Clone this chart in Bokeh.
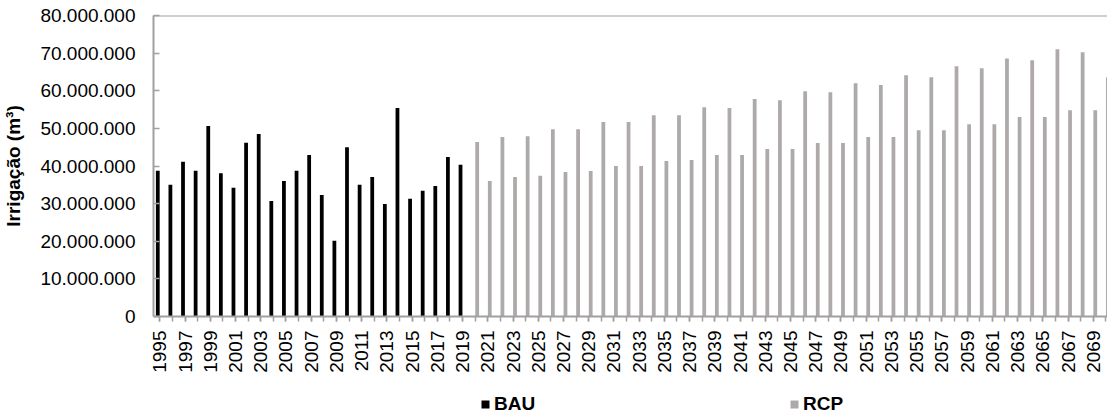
import numpy as np
from bokeh.plotting import figure
from bokeh.layouts import column
from bokeh.models import ColumnDataSource, Range1d, FixedTicker, Span, Legend, LegendItem
from bokeh.transform import dodge
from bokeh.embed import file_html
from bokeh.resources import INLINE

# ---------------- data ----------------
bau_years = list(range(1995, 2020))
bau_values = [38.75e6, 35.0e6, 41.1e6, 38.75e6, 50.6e6, 38.1e6, 34.25e6, 46.2e6, 48.5e6, 30.7e6,
              36.0e6, 38.75e6, 42.9e6, 32.3e6, 20.1e6, 45.0e6, 35.0e6, 37.1e6, 29.9e6, 55.4e6,
              31.3e6, 33.4e6, 34.7e6, 42.4e6, 40.3e6]

rcp_years = list(range(2020, 2071))
rcp_values = [46.4e6, 36.0e6, 47.7e6, 37.1e6, 47.9e6, 37.4e6, 49.8e6, 38.4e6, 49.8e6, 38.7e6,
              51.7e6, 40.0e6, 51.7e6, 40.0e6, 53.5e6, 41.3e6, 53.5e6, 41.6e6, 55.6e6, 42.9e6,
              55.4e6, 42.9e6, 57.8e6, 44.5e6, 57.5e6, 44.5e6, 59.9e6, 46.1e6, 59.6e6, 46.1e6,
              62.0e6, 47.7e6, 61.5e6, 47.7e6, 64.1e6, 49.5e6, 63.6e6, 49.5e6, 66.5e6, 51.1e6,
              66.0e6, 51.1e6, 68.6e6, 53.0e6, 68.1e6, 53.0e6, 71.0e6, 54.8e6, 70.2e6, 54.8e6,
              63.6e6]

y_ticks = [0, 10e6, 20e6, 30e6, 40e6, 50e6, 60e6, 70e6, 80e6]
y_tick_labels = ["0", "10.000.000", "20.000.000", "30.000.000", "40.000.000",
                 "50.000.000", "60.000.000", "70.000.000", "80.000.000"]

x_label_years = list(range(1995, 2070, 2))
all_years = bau_years + rcp_years

series_names = ["BAU", "RCP"]
y_axis_title = "Irrigação (m³)"

# ---------------- style ----------------
FONT = "Liberation Sans"
AXIS_COLOR = "#A0A0A0"
BAU_COLOR = "#000000"
RCP_COLOR = "#AEAAAA"
W = 1107

p = figure(width=W, height=375,
           x_range=Range1d(1994.5, 2070.13), y_range=Range1d(0, 80e6),
           output_backend="svg", toolbar_location=None,
           min_border_left=148, min_border_right=0, min_border_top=15, min_border_bottom=58,
           outline_line_color=None)
p.xgrid.visible = False
p.ygrid.visible = False

src_bau = ColumnDataSource(dict(year=bau_years, value=bau_values))
src_rcp = ColumnDataSource(dict(year=rcp_years, value=rcp_values))

p.vbar(x=dodge("year", -0.16), top="value", width=0.3, bottom=0,
       source=src_bau, fill_color=BAU_COLOR, line_color=None)
p.vbar(x=dodge("year", 0.16), top="value", width=0.3, bottom=0,
       source=src_rcp, fill_color=RCP_COLOR, line_color=None)

# top border line
p.add_layout(Span(location=80e6, dimension="width", line_color=AXIS_COLOR, line_width=2))

# x axis
xa = p.xaxis[0]
xa.ticker = FixedTicker(ticks=x_label_years, minor_ticks=all_years)
xa.major_label_overrides = {y: str(y) for y in x_label_years}
xa.major_label_orientation = np.pi / 2
xa.major_label_text_font = FONT
xa.major_label_text_font_size = "19px"
xa.major_label_text_color = "#000000"
xa.major_label_standoff = 9
xa.axis_line_color = AXIS_COLOR
xa.axis_line_width = 2
xa.major_tick_line_color = AXIS_COLOR
xa.minor_tick_line_color = AXIS_COLOR
xa.major_tick_line_width = 1.5
xa.minor_tick_line_width = 1.5
xa.major_tick_in = 0
xa.major_tick_out = 5
xa.minor_tick_in = 0
xa.minor_tick_out = 5

# y axis
ya = p.yaxis[0]
ya.ticker = FixedTicker(ticks=y_ticks, minor_ticks=[])
ya.major_label_overrides = {t: l for t, l in zip(y_ticks, y_tick_labels)}
ya.major_label_text_font = FONT
ya.major_label_text_font_size = "19px"
ya.major_label_text_color = "#000000"
ya.major_label_standoff = 18
ya.axis_line_color = AXIS_COLOR
ya.axis_line_width = 2
ya.major_tick_line_color = AXIS_COLOR
ya.major_tick_line_width = 1.5
ya.major_tick_in = 6
ya.major_tick_out = 0
ya.axis_label = y_axis_title
ya.axis_label_text_font = FONT
ya.axis_label_text_font_size = "19px"
ya.axis_label_text_font_style = "bold"
ya.axis_label_text_color = "#000000"
ya.axis_label_standoff = 13

# ---------------- legend strip ----------------
pl = figure(width=W, height=40, x_range=Range1d(0, 1), y_range=Range1d(0, 1),
            output_backend="svg", toolbar_location=None,
            x_axis_location=None, y_axis_location=None,
            min_border=0, outline_line_color=None)
pl.xgrid.visible = False
pl.ygrid.visible = False
# off-screen stand-in renderers that only carry the legend swatch styles
lr_bau = pl.vbar(x=[-10], top=[-10], width=0.1, fill_color=BAU_COLOR, line_color=None)
lr_rcp = pl.vbar(x=[-10], top=[-10], width=0.1, fill_color=RCP_COLOR, line_color=None)

def make_legend(name, renderer, x_off):
    return Legend(items=[LegendItem(label=name, renderers=[renderer])],
                  location=(x_off, 0), orientation="horizontal",
                  glyph_width=10, glyph_height=10, label_standoff=4,
                  label_text_font=FONT, label_text_font_size="19px",
                  label_text_font_style="bold", label_text_color="#000000",
                  label_height=18, padding=0, margin=0, spacing=0,
                  border_line_color=None, background_fill_alpha=0)

pl.add_layout(make_legend(series_names[0], lr_bau, 327))
pl.add_layout(make_legend(series_names[1], lr_rcp, 636))

layout = column(p, pl, spacing=0)
open("out.html", "w").write(file_html(layout, INLINE))
